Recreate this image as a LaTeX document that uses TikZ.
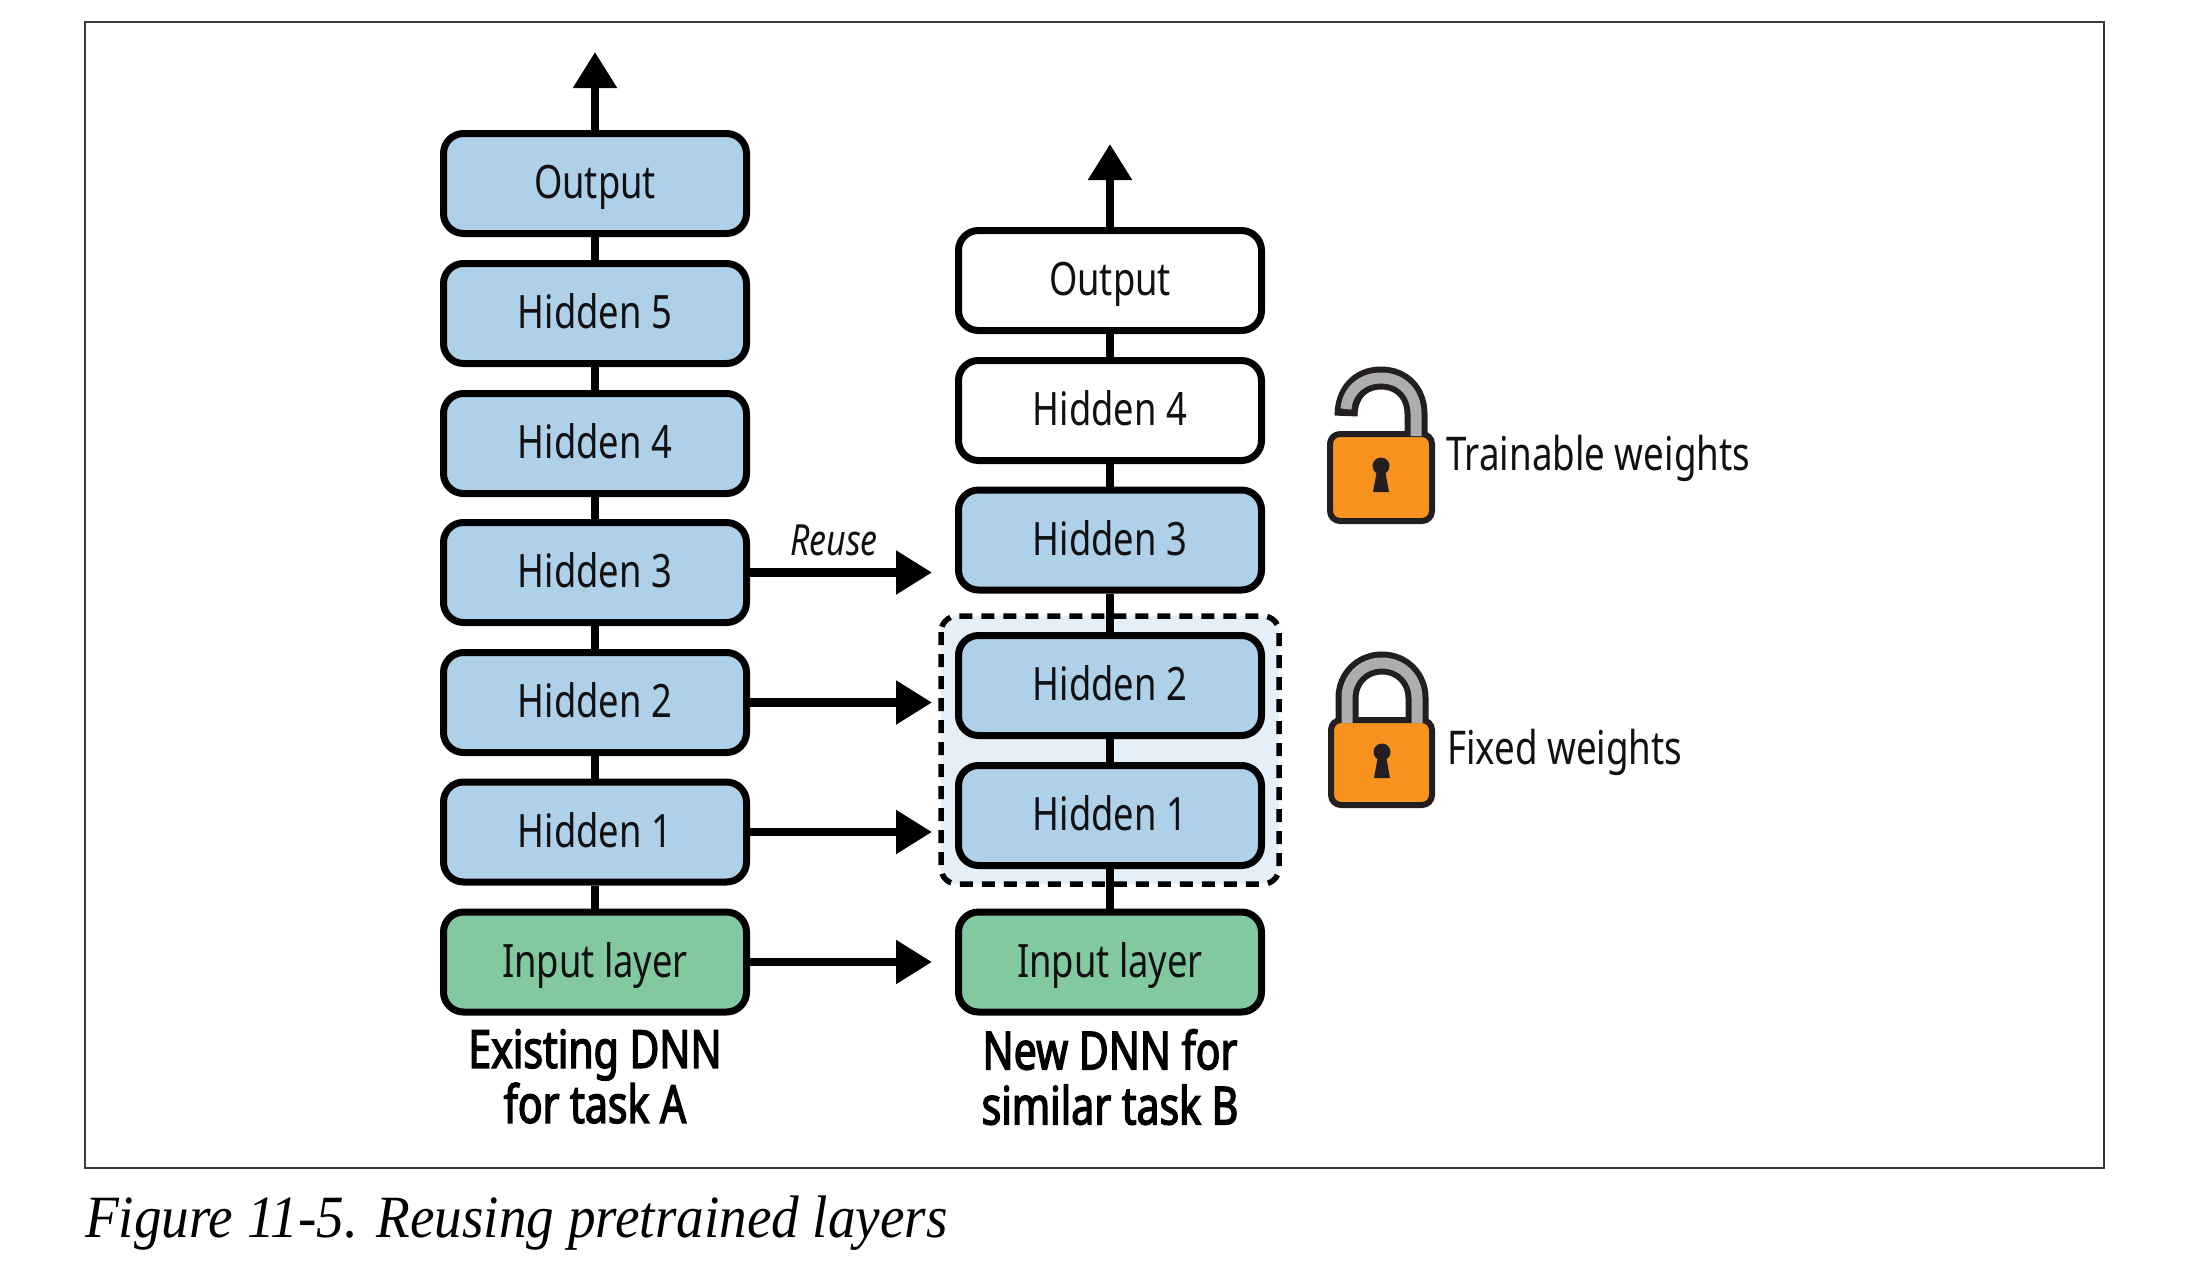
\documentclass[tikz,border=0pt]{standalone}
\usepackage{fontspec}
\setmainfont[FakeStretch=0.79]{Noto Sans}
\newfontfamily\titlefont[FakeStretch=0.78,FakeBold=2.6]{Noto Sans}
\newfontfamily\capfont[FakeStretch=0.92]{Liberation Serif}
\usetikzlibrary{arrows.meta,backgrounds}
\definecolor{ink}{HTML}{111114}
\definecolor{lockdark}{HTML}{231F20}
\definecolor{boxblue}{HTML}{AED0E8}
\definecolor{boxgreen}{HTML}{82C9A0}
\definecolor{fixfill}{HTML}{E4EFF7}
\definecolor{lockorange}{HTML}{F7931E}
\definecolor{lockgray}{HTML}{ADADAD}
\definecolor{framegray}{HTML}{3A3A3A}
\tikzset{
 layerbox/.style={draw=black,line width=7pt,rounded corners=20pt,minimum width=303pt,minimum height=100pt,inner sep=0pt,
   text=ink,font=\fontsize{46}{46}\selectfont,text height=34pt,text depth=4pt,anchor=center},
 bluebox/.style={layerbox,fill=boxblue},
 greenbox/.style={layerbox,fill=boxgreen},
 whitebox/.style={layerbox,fill=white},
 link/.style={line width=8.5pt,black},
 flow/.style={line width=8.5pt,black,-{Triangle[length=36pt,width=42pt]}},
 stacktitle/.style={align=center,text=black,font=\fontsize{52.5}{55}\titlefont,anchor=north,inner sep=0pt},
 locklabel/.style={anchor=base west,inner sep=0pt,text=ink,font=\fontsize{46.5}{46.5}\selectfont},
 lockbody/.style={draw=lockdark,fill=lockorange,line width=6pt,rounded corners=10pt},
 shackledark/.style={draw=lockdark,line width=23pt},
 shacklegray/.style={draw=lockgray,line width=11pt},
 keyhole/.style={fill=lockdark,draw=none}
}
\newcommand{\keyholeat}[2]{%
 \fill[keyhole] (#1,#2) circle[radius=8.5pt];
 \fill[keyhole] (#1-4,#2+4) -- (#1+4,#2+4) -- (#1+8,#2+26) -- (#1-8,#2+26) -- cycle;}
\begin{document}
\begin{tikzpicture}[x=1pt,y=-1pt]
\useasboundingbox (0,0) rectangle (2188,1262);

% left stack
\node[bluebox] (la) at (595,183.5) {Output};
\node[bluebox] (l5) at (595,313.5) {Hidden 5};
\node[bluebox] (l4) at (595,443.5) {Hidden 4};
\node[bluebox] (l3) at (595,572.5) {Hidden 3};
\node[bluebox] (l2) at (595,702.5) {Hidden 2};
\node[bluebox] (l1) at (595,832) {Hidden 1};
\node[greenbox] (l0) at (595,962) {Input layer};
% right stack
\node[whitebox] (ra) at (1110,280.5) {Output};
\node[whitebox] (r4) at (1110,410.5) {Hidden 4};
\node[bluebox] (r3) at (1110,540) {Hidden 3};
\node[bluebox] (r2) at (1110,685.5) {Hidden 2};
\node[bluebox] (r1) at (1110,815.5) {Hidden 1};
\node[greenbox] (r0) at (1110,962) {Input layer};

\coordinate (outa) at (595,52);
\coordinate (outb) at (1110,144);
\coordinate (tip3) at (932,572.5);
\coordinate (tip2) at (932,702.5);
\coordinate (tip1) at (932,832);
\coordinate (tip0) at (932,962);

\begin{scope}[on background layer]
\fill[white] (0,0) rectangle (2188,1262);
\draw[framegray,line width=2.2pt] (85,22) rectangle (2104,1168);
\draw[fill=fixfill,draw=black,line width=5.5pt,dash pattern=on 13pt off 9pt,rounded corners=16pt] (941,616) rectangle (1279,884);
\draw[link] (la) -- (l5);
\draw[link] (l5) -- (l4);
\draw[link] (l4) -- (l3);
\draw[link] (l3) -- (l2);
\draw[link] (l2) -- (l1);
\draw[link] (l1) -- (l0);
\draw[link] (ra) -- (r4);
\draw[link] (r4) -- (r3);
\draw[link] (r3) -- (r2);
\draw[link] (r2) -- (r1);
\draw[link] (r1) -- (r0);
\end{scope}

\draw[flow] (la.north) -- (outa);
\draw[flow] (ra.north) -- (outb);
\draw[flow] (l3.east) -- (tip3);
\draw[flow] (l2.east) -- (tip2);
\draw[flow] (l1.east) -- (tip1);
\draw[flow] (l0.east) -- (tip0);

\node[anchor=base,inner sep=0pt,text=ink,font=\fontsize{43}{43}\selectfont\itshape] (reuse) at (834,555) {Reuse};

\node[stacktitle] (ta) at (595,1029) {Existing DNN\\for task A};
\node[stacktitle] (tb) at (1110,1029) {New DNN for\\similar task B};

% open lock
\draw[shackledark] (1346,416) .. controls (1346,393) and (1360,378) .. (1381,378) .. controls (1402,378) and (1416,393) .. (1416,414) -- (1416,436);
\draw[lockbody] (1330,434) rectangle (1432,521);
\draw[shacklegray] (1346,409) .. controls (1347,393) and (1360,378) .. (1381,378) .. controls (1402,378) and (1416,393) .. (1416,414) -- (1416,436);
\keyholeat{1381}{466}
\node[locklabel] (lt) at (1446,470) {Trainable weights};

% closed lock
\draw[shackledark] (1347,720) -- (1347,698) .. controls (1347,678.7) and (1361.7,663) .. (1382,663) .. controls (1402.3,663) and (1417,678.7) .. (1417,698) -- (1417,720);
\draw[lockbody] (1331,720) rectangle (1432,805);
\draw[shacklegray] (1347,723) -- (1347,698) .. controls (1347,678.7) and (1361.7,663) .. (1382,663) .. controls (1402.3,663) and (1417,678.7) .. (1417,698) -- (1417,723);
\keyholeat{1382}{752}
\node[locklabel] (lf) at (1447,764) {Fixed weights};

\node[anchor=base west,inner sep=0pt,text=black,font=\fontsize{60}{60}\capfont\itshape] (cap) at (85,1237) {Figure 11-5. Reusing pretrained layers};
\end{tikzpicture}
\end{document}
